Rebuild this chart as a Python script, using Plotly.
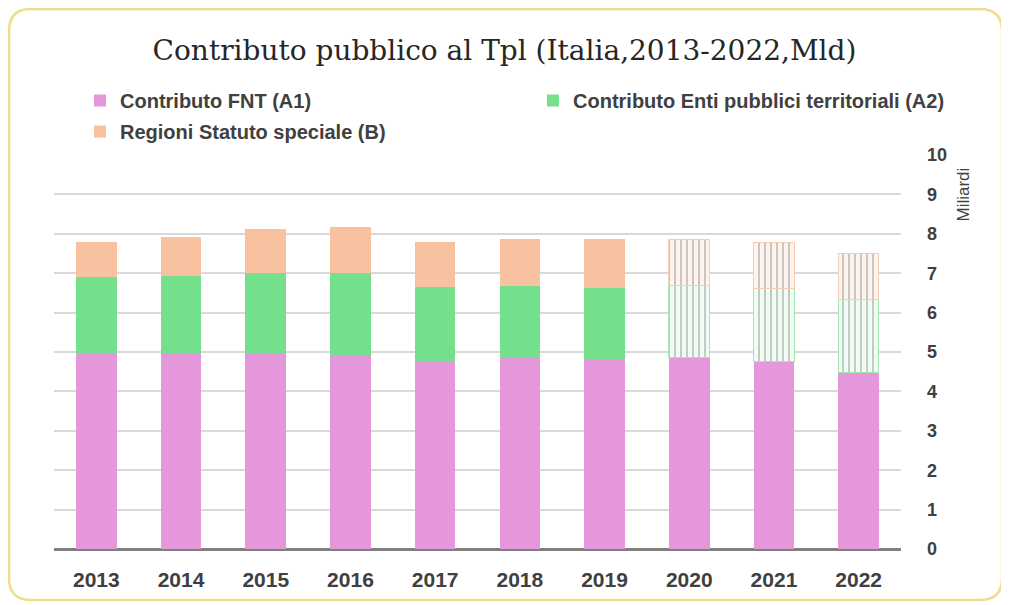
import plotly.graph_objects as go

years = ["2013", "2014", "2015", "2016", "2017", "2018", "2019", "2020", "2021", "2022"]
fnt = [4.97, 4.97, 4.97, 4.92, 4.78, 4.88, 4.82, 4.86, 4.77, 4.48]
enti = [1.94, 1.97, 2.04, 2.09, 1.88, 1.80, 1.81, 1.82, 1.84, 1.84]
regioni = [0.89, 0.97, 1.10, 1.16, 1.14, 1.18, 1.23, 1.18, 1.17, 1.18]
estimated = [False] * 7 + [True] * 3

# page body has an 8px margin: work in figure coordinates (screen - 8)
W, H = 1001, 597
L, R, T, B = 46, 108, 147, 56
pw, ph = W - L - R, H - T - B

def px_x(x):
    return (x - L) / pw

def px_y(y):
    return (H - B - y) / ph

PINK = "#E597DC"
GREEN = "#74E08B"
ORANGE = "#F8C1A0"

def pattern_for(solid, light, hatch, border):
    shapes = ["|" if e else "" for e in estimated]
    fg = [hatch if e else solid for e in estimated]
    bg = [light if e else solid for e in estimated]
    colors = [light if e else solid for e in estimated]
    lw = [1 if e else 0 for e in estimated]
    return dict(color=colors,
                pattern=dict(shape=shapes, fgcolor=fg, bgcolor=bg, size=6, solidity=0.15,
                             fgopacity=0.6),
                line=dict(color=[border if e else solid for e in estimated], width=lw))

fig = go.Figure()
fig.add_trace(go.Bar(x=years, y=fnt, name="Contributo FNT (A1)", legend="legend",
                     showlegend=True, marker=dict(color=PINK, line=dict(width=0))))
fig.add_trace(go.Bar(x=years, y=enti, name="Contributo Enti pubblici territoriali (A2)",
                     legend="legend2", showlegend=True,
                     marker=pattern_for(GREEN, "#F0FCF2", "#A8E8B6", "#A6E6B4")))
fig.add_trace(go.Bar(x=years, y=regioni, name="Regioni Statuto speciale (B)",
                     legend="legend3", showlegend=True,
                     marker=pattern_for(ORANGE, "#FEF4EE", "#F6CDB5", "#F5CDB5")))

# rounded border
x0, y0, x1, y1, r = 1, 1, 994, 592, 22
path = (f"M {px_x(x0 + r)},{px_y(y0)} L {px_x(x1 - r)},{px_y(y0)} "
        f"Q {px_x(x1)},{px_y(y0)} {px_x(x1)},{px_y(y0 + r)} "
        f"L {px_x(x1)},{px_y(y1 - r)} Q {px_x(x1)},{px_y(y1)} {px_x(x1 - r)},{px_y(y1)} "
        f"L {px_x(x0 + r)},{px_y(y1)} Q {px_x(x0)},{px_y(y1)} {px_x(x0)},{px_y(y1 - r)} "
        f"L {px_x(x0)},{px_y(y0 + r)} Q {px_x(x0)},{px_y(y0)} {px_x(x0 + r)},{px_y(y0)} Z")

legend_font = dict(family="Liberation Sans", size=20, color="#404040", weight="bold")

def leg(xp, yp):
    return dict(x=xp / W, y=1 - yp / H, xanchor="left", yanchor="top",
                xref="container", yref="container", font=legend_font,
                bgcolor="rgba(0,0,0,0)", itemwidth=30, visible=True)

fig.update_layout(
    width=W, height=H,
    showlegend=True,
    margin=dict(l=L, r=R, t=T, b=B, autoexpand=False),
    paper_bgcolor="white", plot_bgcolor="white",
    barmode="stack", bargap=0.52,
    title=dict(text="Contributo pubblico al Tpl (Italia,2013-2022,Mld)",
               x=(504.5 - 8) / W, xanchor="center", xref="container", y=1 - 42 / H,
               yanchor="middle",
               font=dict(family="DejaVu Serif", size=28, color="#262626")),
    legend=leg(72, 73),
    legend2=leg(525, 73),
    legend3=leg(72, 104),
    shapes=[dict(type="path", path=path, xref="paper", yref="paper",
                 line=dict(color="#F0DC8C", width=2.5), layer="below")],
    annotations=[dict(text="Miliardi", textangle=-90, x=px_x(955), y=px_y(186.5),
                      xanchor="center", yanchor="middle",
                      xref="paper", yref="paper", showarrow=False,
                      font=dict(family="Liberation Sans", size=17, color="#404040"))],
    xaxis=dict(showgrid=False,
               tickfont=dict(family="Liberation Sans", size=21, color="#404040", weight="bold"),
               ticks="", ticklabelstandoff=16, showline=False),
    yaxis=dict(side="right", range=[0, 10], dtick=1, showgrid=True, gridcolor="#D9D9D9",
               gridwidth=1.5, zeroline=True, zerolinecolor="#7F7F7F", zerolinewidth=3,
               tickfont=dict(family="Liberation Sans", size=18, color="#404040", weight="bold"),
               ticklabelstandoff=25, showline=False),
)

fig.write_html("out.html")
